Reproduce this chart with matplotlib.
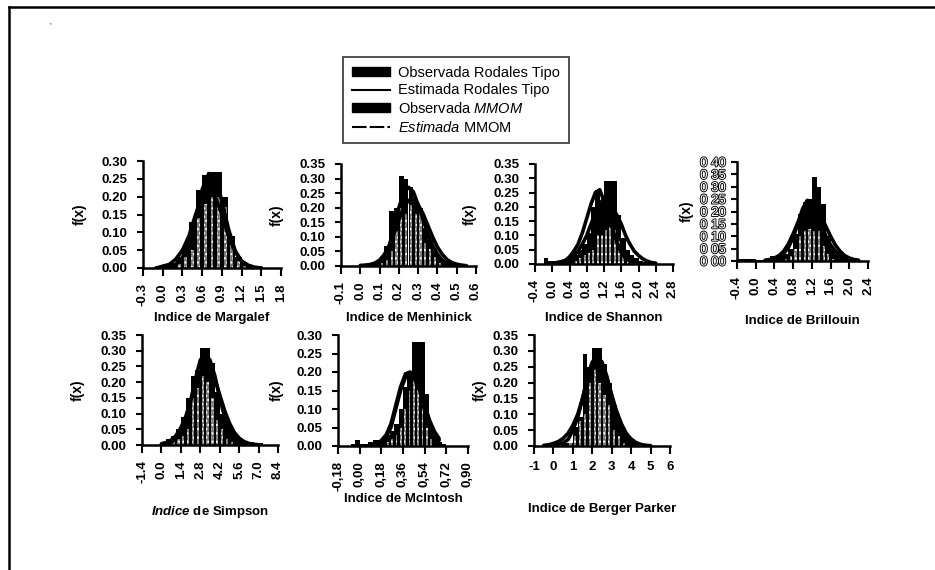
import matplotlib
matplotlib.use('Agg')
import matplotlib.pyplot as plt
import matplotlib.patheffects as pe
from matplotlib.lines import Line2D
from matplotlib.patches import Patch

plt.rcParams['font.family'] = ['Liberation Sans', 'DejaVu Sans']
plt.rcParams['mathtext.fontset'] = 'custom'
plt.rcParams['mathtext.rm'] = 'Liberation Sans'
plt.rcParams['mathtext.it'] = 'Liberation Sans:italic'
plt.rcParams['mathtext.bf'] = 'Liberation Sans:bold:italic'
plt.rcParams['hatch.linewidth'] = 1.0

# ---------------- data ----------------
legend_labels = ['Observada Rodales Tipo', 'Estimada Rodales Tipo',
                 r'Observada $\mathit{MMOM}$', r'$\mathit{Estimada}$ MMOM']

# Margalef
marg_x = [-0.15, -0.05, 0.05, 0.15, 0.25, 0.35, 0.45, 0.55, 0.65, 0.75, 0.85,
          0.95, 1.05, 1.15, 1.25, 1.35, 1.45]
marg_rt = [0.0, 0.005, 0.01, 0.015, 0.03, 0.06, 0.13, 0.22, 0.26, 0.27, 0.27,
           0.20, 0.09, 0.03, 0.01, 0.005, 0.0]
marg_mm = [0, 0, 0, 0.005, 0.01, 0.03, 0.05, 0.14, 0.18, 0.20, 0.20,
           0.17, 0.07, 0.02, 0.005, 0, 0]
marg_cx = [-0.1, 0.0, 0.1, 0.2, 0.3, 0.4, 0.5, 0.6, 0.7, 0.8, 0.9, 1.0, 1.1,
           1.2, 1.3, 1.4, 1.5]
marg_c_rt = [0.0, 0.0, 0.002, 0.01, 0.03, 0.07, 0.14, 0.22, 0.265, 0.25, 0.19,
             0.11, 0.05, 0.018, 0.005, 0.001, 0.0]
marg_c_mm = [0.0, 0.005, 0.01, 0.025, 0.05, 0.09, 0.15, 0.20, 0.22, 0.20, 0.15,
             0.09, 0.045, 0.02, 0.008, 0.002, 0.0]
marg_xt = [-0.3, 0.0, 0.3, 0.6, 0.9, 1.2, 1.5, 1.8]
marg_xtl = ['-0.3', '0.0', '0.3', '0.6', '0.9', '1.2', '1.5', '1.8']

# Menhinick
menh_x = [0.0125, 0.0375, 0.0625, 0.0875, 0.1125, 0.1375, 0.1625, 0.1875,
          0.2125, 0.2375, 0.2625, 0.2875, 0.3125, 0.3375, 0.3625, 0.3875,
          0.4125, 0.4375, 0.4625, 0.4875, 0.5125]
menh_rt = [0.005, 0.005, 0.01, 0.01, 0.03, 0.07, 0.19, 0.20, 0.31, 0.30, 0.27,
           0.22, 0.20, 0.13, 0.09, 0.05, 0.03, 0.015, 0.01, 0.005, 0.002]
menh_mm = [0, 0, 0, 0, 0.01, 0.02, 0.05, 0.12, 0.20, 0.18, 0.21, 0.18, 0.19,
           0.08, 0.06, 0.03, 0.01, 0, 0, 0, 0]
menh_cx = [0.0, 0.025, 0.05, 0.075, 0.1, 0.125, 0.15, 0.175, 0.2, 0.225, 0.25,
           0.275, 0.3, 0.325, 0.35, 0.375, 0.4, 0.425, 0.45, 0.475, 0.5, 0.525,
           0.55]
menh_c_rt = [0.0, 0.001, 0.002, 0.005, 0.012, 0.03, 0.07, 0.13, 0.20, 0.25,
             0.27, 0.255, 0.21, 0.16, 0.11, 0.07, 0.04, 0.02, 0.01, 0.005,
             0.002, 0.001, 0.0]
menh_c_mm = [0.002, 0.003, 0.005, 0.01, 0.02, 0.04, 0.07, 0.11, 0.16, 0.20,
             0.225, 0.23, 0.21, 0.18, 0.14, 0.10, 0.065, 0.04, 0.022, 0.012,
             0.006, 0.003, 0.001]
menh_xt = [-0.1, 0.0, 0.1, 0.2, 0.3, 0.4, 0.5, 0.6]
menh_xtl = ['-0.1', '0.0', '0.1', '0.2', '0.3', '0.4', '0.5', '0.6']

# Shannon
shan_x = [-0.35, -0.25, -0.15, -0.05, 0.05, 0.15, 0.25, 0.35, 0.45, 0.55,
          0.65, 0.75, 0.85, 0.95, 1.05, 1.15, 1.25, 1.35, 1.45, 1.55, 1.65,
          1.75, 1.85, 1.95, 2.05, 2.15, 2.25, 2.35]
shan_rt = [0.0, 0.0, 0.02, 0.01, 0.01, 0.01, 0.015, 0.02, 0.03, 0.03, 0.05,
           0.07, 0.11, 0.20, 0.26, 0.22, 0.29, 0.29, 0.29, 0.17, 0.09, 0.05,
           0.03, 0.02, 0.01, 0.005, 0.002, 0.0]
shan_mm = [0, 0, 0, 0, 0, 0, 0, 0, 0, 0.01, 0.02, 0.03, 0.04, 0.05, 0.10,
           0.10, 0.12, 0.13, 0.12, 0.08, 0.04, 0.02, 0.01, 0, 0, 0, 0, 0]
shan_cx = [0.0, 0.1, 0.2, 0.3, 0.4, 0.5, 0.6, 0.7, 0.8, 0.9, 1.0, 1.1, 1.2,
           1.3, 1.4, 1.5, 1.6, 1.7, 1.8, 1.9, 2.0, 2.1, 2.2, 2.3, 2.4]
shan_c_rt = [0.003, 0.005, 0.008, 0.012, 0.02, 0.03, 0.045, 0.07, 0.10, 0.14,
             0.18, 0.21, 0.23, 0.225, 0.20, 0.17, 0.14, 0.10, 0.07, 0.045,
             0.03, 0.018, 0.01, 0.005, 0.003]
shan_c_mm = [0.002, 0.003, 0.006, 0.012, 0.025, 0.045, 0.07, 0.11, 0.16, 0.21,
             0.25, 0.26, 0.22, 0.17, 0.12, 0.075, 0.04, 0.02, 0.01, 0.005,
             0.002, 0.001, 0.0, 0.0, 0.0]
shan_xt = [-0.4, 0.0, 0.4, 0.8, 1.2, 1.6, 2.0, 2.4, 2.8]
shan_xtl = ['-0.4', '0.0', '0.4', '0.8', '1.2', '1.6', '2.0', '2.4', '2.8']

# Brillouin
bril_x = [-0.35, -0.25, -0.15, -0.05, 0.05, 0.15, 0.25, 0.35, 0.45, 0.55,
          0.65, 0.75, 0.85, 0.95, 1.05, 1.15, 1.25, 1.35, 1.45, 1.55, 1.65,
          1.75, 1.85, 1.95, 2.05, 2.15]
bril_rt = [0.01, 0.01, 0.01, 0.01, 0.005, 0.005, 0.005, 0.02, 0.02, 0.02,
           0.03, 0.05, 0.11, 0.19, 0.24, 0.25, 0.34, 0.30, 0.23, 0.10, 0.05,
           0.03, 0.02, 0.01, 0.01, 0.005]
bril_mm = [0, 0, 0, 0, 0, 0, 0, 0, 0, 0, 0.01, 0.02, 0.05, 0.10, 0.12, 0.13,
           0.12, 0.12, 0.06, 0.03, 0.01, 0, 0, 0, 0, 0]
bril_cx = [0.2, 0.3, 0.4, 0.5, 0.6, 0.7, 0.8, 0.9, 1.0, 1.1, 1.2, 1.3, 1.4,
           1.5, 1.6, 1.7, 1.8, 1.9, 2.0, 2.1, 2.2]
bril_c_rt = [0.001, 0.003, 0.006, 0.013, 0.03, 0.055, 0.095, 0.15, 0.21,
             0.245, 0.24, 0.20, 0.15, 0.10, 0.065, 0.04, 0.022, 0.012, 0.006,
             0.003, 0.001]
bril_c_mm = [0.003, 0.006, 0.012, 0.022, 0.04, 0.07, 0.11, 0.155, 0.20, 0.23,
             0.24, 0.22, 0.18, 0.14, 0.10, 0.065, 0.04, 0.022, 0.012, 0.006,
             0.003]
bril_xt = [-0.4, 0.0, 0.4, 0.8, 1.2, 1.6, 2.0, 2.4]
bril_xtl = ['-0.4', '0.0', '0.4', '0.8', '1.2', '1.6', '2.0', '2.4']

# Simpson
simp_x = [-0.175, 0.175, 0.525, 0.875, 1.225, 1.575, 1.925, 2.275, 2.625,
          2.975, 3.325, 3.675, 4.025, 4.375, 4.725, 5.075, 5.425, 5.775,
          6.125, 6.475, 6.825, 7.175, 7.525]
simp_rt = [0.0, 0.005, 0.02, 0.03, 0.05, 0.09, 0.15, 0.22, 0.24, 0.31, 0.31,
           0.26, 0.17, 0.10, 0.07, 0.04, 0.02, 0.01, 0.01, 0.01, 0.005, 0.005,
           0.0]
simp_mm = [0, 0, 0, 0.01, 0.02, 0.03, 0.05, 0.15, 0.18, 0.22, 0.20, 0.15,
           0.08, 0.05, 0.02, 0.01, 0, 0, 0, 0, 0, 0, 0]
simp_cx = [0.0, 0.35, 0.7, 1.05, 1.4, 1.75, 2.1, 2.45, 2.8, 3.15, 3.5, 3.85,
           4.2, 4.55, 4.9, 5.25, 5.6, 5.95, 6.3, 6.65, 7.0]
simp_c_rt = [0.001, 0.003, 0.008, 0.02, 0.04, 0.08, 0.14, 0.21, 0.27, 0.29,
             0.27, 0.22, 0.15, 0.09, 0.05, 0.025, 0.011, 0.005, 0.002, 0.001,
             0.0]
simp_c_mm = [0.004, 0.008, 0.016, 0.03, 0.055, 0.09, 0.14, 0.19, 0.23, 0.25,
             0.24, 0.21, 0.16, 0.11, 0.07, 0.04, 0.022, 0.011, 0.005, 0.002,
             0.001]
simp_xt = [-1.4, 0.0, 1.4, 2.8, 4.2, 5.6, 7.0, 8.4]
simp_xtl = ['-1.4', '0.0', '1.4', '2.8', '4.2', '5.6', '7.0', '8.4']

# McIntosh
mcin_x = [-0.162, -0.126, -0.09, -0.054, -0.018, 0.018, 0.054, 0.09, 0.126,
          0.162, 0.198, 0.234, 0.27, 0.306, 0.342, 0.378, 0.414, 0.45, 0.486,
          0.522, 0.558, 0.594, 0.63, 0.666, 0.702]
mcin_rt = [0.0, 0.0, 0.0, 0.005, 0.015, 0.005, 0.005, 0.01, 0.015, 0.015,
           0.02, 0.03, 0.04, 0.06, 0.10, 0.16, 0.19, 0.28, 0.28, 0.28, 0.14,
           0.06, 0.03, 0.01, 0.005]
mcin_mm = [0, 0, 0, 0, 0, 0, 0, 0, 0, 0, 0, 0.01, 0.02, 0.03, 0.05, 0.10, 0.15,
           0.19, 0.17, 0.10, 0.05, 0.02, 0, 0, 0]
mcin_cx = [0.14, 0.18, 0.22, 0.26, 0.30, 0.34, 0.38, 0.42, 0.46, 0.50, 0.54,
           0.58, 0.62, 0.66]
mcin_c_rt = [0.005, 0.015, 0.03, 0.06, 0.11, 0.16, 0.195, 0.20, 0.18, 0.15,
             0.11, 0.07, 0.04, 0.02]
mcin_c_mm = [0.003, 0.01, 0.025, 0.05, 0.10, 0.15, 0.185, 0.195, 0.18, 0.15,
             0.11, 0.065, 0.035, 0.015]
mcin_xt = [-0.18, 0.0, 0.18, 0.36, 0.54, 0.72, 0.90]
mcin_xtl = ['-0,18', '0,00', '0,18', '0,36', '0,54', '0,72', '0,90']

# Berger Parker
berg_x = [-0.375, -0.125, 0.125, 0.375, 0.625, 0.875, 1.125, 1.375, 1.625,
          1.875, 2.125, 2.375, 2.625, 2.875, 3.125, 3.375, 3.625, 3.875,
          4.125, 4.375, 4.625, 4.875, 5.125]
berg_rt = [0.0, 0.0, 0.005, 0.005, 0.01, 0.01, 0.06, 0.09, 0.29, 0.25, 0.31,
           0.31, 0.26, 0.20, 0.13, 0.08, 0.05, 0.03, 0.01, 0.01, 0.005, 0.005,
           0.0]
berg_mm = [0, 0, 0, 0, 0, 0.01, 0.03, 0.08, 0.10, 0.20, 0.25, 0.20, 0.16,
           0.13, 0.05, 0.03, 0.01, 0, 0, 0, 0, 0, 0]
berg_cx = [-0.5, -0.25, 0.0, 0.25, 0.5, 0.75, 1.0, 1.25, 1.5, 1.75, 2.0, 2.25,
           2.5, 2.75, 3.0, 3.25, 3.5, 3.75, 4.0, 4.25, 4.5, 4.75, 5.0]
berg_c_rt = [0.0, 0.0, 0.002, 0.004, 0.01, 0.02, 0.05, 0.09, 0.15, 0.22,
             0.265, 0.28, 0.265, 0.22, 0.16, 0.10, 0.055, 0.028, 0.012, 0.005,
             0.002, 0.001, 0.0]
berg_c_mm = [0.002, 0.004, 0.008, 0.014, 0.024, 0.04, 0.065, 0.10, 0.15, 0.20,
             0.24, 0.255, 0.245, 0.21, 0.16, 0.11, 0.07, 0.04, 0.022, 0.011,
             0.005, 0.002, 0.001]
berg_xt = [-1, 0, 1, 2, 3, 4, 5, 6]
berg_xtl = ['-1', '0', '1', '2', '3', '4', '5', '6']

yt_30 = [0.0, 0.05, 0.10, 0.15, 0.20, 0.25, 0.30]
yt_35 = [0.0, 0.05, 0.10, 0.15, 0.20, 0.25, 0.30, 0.35]
yt_40 = [0.0, 0.05, 0.10, 0.15, 0.20, 0.25, 0.30, 0.35, 0.40]
bril_ytl = ['0 00', '0 05', '0 10', '0 15', '0 20', '0 25', '0 30', '0 35', '0 40']

# ---------------- figure ----------------
W, H = 935, 570
fig = plt.figure(figsize=(W / 100, H / 100), dpi=100)


def panel(rect, xt, xtl, yt, ytl, cen, bw, rt, mm, cx, c_rt, c_mm,
          xlabel, xlab_y, ylab_off, rot=90, hollow=False):
    l, t, r, b = rect
    ax = fig.add_axes([l / W, 1 - b / H, (r - l) / W, (b - t) / H])
    ax.bar(cen, rt, width=bw, color='black', lw=0)
    ax.bar(cen, mm, width=bw * 0.45, facecolor='#7a7a7a', edgecolor='white',
           hatch='....', lw=0)
    ax.plot(cx, c_rt, color='black', lw=2.6, solid_capstyle='round')
    ax.plot(cx, c_mm, color='black', lw=2.6, solid_capstyle='round')
    ax.set_xlim(xt[0], xt[-1])
    ax.set_ylim(yt[0], yt[-1])
    ax.set_xticks(xt)
    ax.set_xticklabels(xtl, rotation=rot, fontsize=9.5, fontweight='bold')
    ax.set_yticks(yt)
    if ytl is None:
        ytl = ['%.2f' % v for v in yt]
    ax.set_yticklabels(ytl, fontsize=9.5, fontweight='bold')
    for s in ['top', 'right']:
        ax.spines[s].set_visible(False)
    for s in ['left', 'bottom']:
        ax.spines[s].set_linewidth(1.8)
    ax.tick_params(axis='x', direction='out', length=6, width=1.5, pad=5)
    ax.tick_params(axis='y', direction='out', length=4, width=1.5, pad=7)
    if hollow:
        ax.tick_params(axis='y', pad=4)
        for lab in ax.get_yticklabels():
            lab.set_fontweight('normal')
            lab.set_fontsize(9.5)
            lab.set_color('white')
            lab.set_path_effects([pe.withStroke(linewidth=1.3,
                                                foreground='black')])
    ax.text(0.5, (b - xlab_y) / (b - t), xlabel, transform=ax.transAxes,
            ha='center', va='center', fontsize=9.5, fontweight='bold')
    ax.text(-ylab_off / (r - l), 0.5, 'f(x)', transform=ax.transAxes,
            rotation=90, ha='center', va='center', fontsize=10,
            fontweight='bold')
    return ax


panel((143, 161, 281, 268), marg_xt, marg_xtl, yt_30, None, marg_x, 0.1,
      marg_rt, marg_mm, marg_cx, marg_c_rt, marg_c_mm,
      'Indice de Margalef', 318, 63)
panel((341, 164, 476, 266), menh_xt, menh_xtl, yt_35, None, menh_x, 0.025,
      menh_rt, menh_mm, menh_cx, menh_c_rt, menh_c_mm,
      'Indice de Menhinick', 318, 64)
panel((535, 164, 673, 264), shan_xt, shan_xtl, yt_35, None, shan_x, 0.1,
      shan_rt, shan_mm, shan_cx, shan_c_rt, shan_c_mm,
      'Indice de Shannon', 318, 65)
panel((737, 162, 868, 261), bril_xt, bril_xtl, yt_40, bril_ytl, bril_x, 0.1,
      bril_rt, bril_mm, bril_cx, bril_c_rt, bril_c_mm,
      'Indice de Brillouin', 321, 50, hollow=True)
panel((142, 335, 278, 445), simp_xt, simp_xtl, yt_35, None, simp_x, 0.35,
      simp_rt, simp_mm, simp_cx, simp_c_rt, simp_c_mm,
      r'$\mathbf{Indice}$ de Simpson', 512, 64)
panel((338, 335, 468, 446), mcin_xt, mcin_xtl, yt_30, None, mcin_x, 0.036,
      mcin_rt, mcin_mm, mcin_cx, mcin_c_rt, mcin_c_mm,
      'Indice de McIntosh', 499, 61)
panel((534, 335, 670, 446), berg_xt, berg_xtl, yt_35, None, berg_x, 0.25,
      berg_rt, berg_mm, berg_cx, berg_c_rt, berg_c_mm,
      'Indice de Berger Parker', 509, 54, rot=0)

# legend
handles = [Patch(facecolor='black', edgecolor='black'),
           Line2D([], [], color='black', lw=1.5),
           Patch(facecolor='black', edgecolor='black'),
           Line2D([], [], color='black', lw=1.5, ls=(0, (7, 1.5)))]
leg = fig.legend(handles, legend_labels, loc='upper left',
                 bbox_to_anchor=(343 / W, 1 - 57 / H), frameon=True,
                 fancybox=False, edgecolor='black', fontsize=10.5,
                 handlelength=2.6, handleheight=0.55, handletextpad=0.6,
                 labelspacing=0.25, borderpad=0.6, borderaxespad=0)
leg.get_frame().set_linewidth(1.2)

# scanned page frame
fig.add_artist(Line2D([9 / W, 9 / W], [0, 1 - 7 / H], color='black', lw=1.8,
                      transform=fig.transFigure))
fig.add_artist(Line2D([9 / W, 1], [1 - 7 / H, 1 - 7 / H], color='black',
                      lw=1.8, transform=fig.transFigure))
fig.text(50 / W, 1 - 27 / H, "'", fontsize=6)

fig.savefig('out.png', dpi=100)
